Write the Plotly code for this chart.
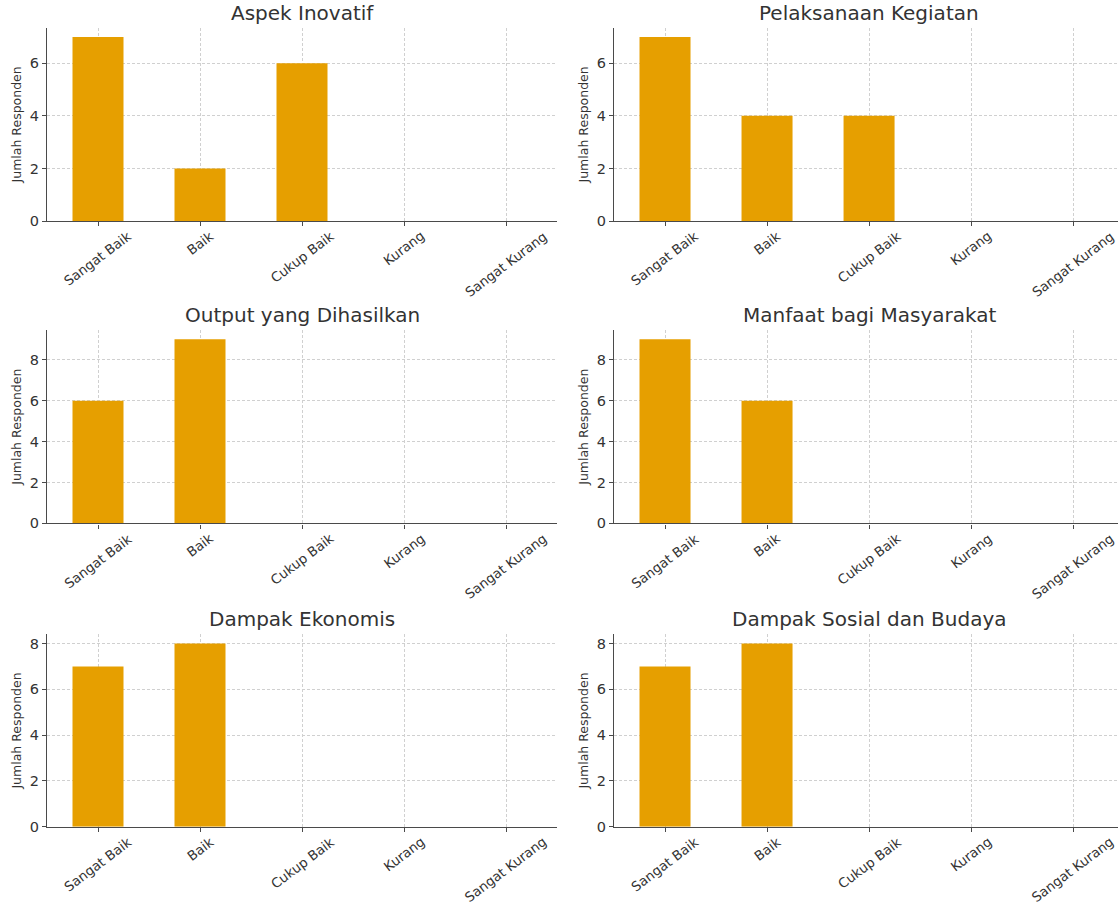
import plotly.graph_objects as go

categories = ["Sangat Baik", "Baik", "Cukup Baik", "Kurang", "Sangat Kurang"]
titles = ["Aspek Inovatif", "Pelaksanaan Kegiatan", "Output yang Dihasilkan",
          "Manfaat bagi Masyarakat", "Dampak Ekonomis", "Dampak Sosial dan Budaya"]
aspek_inovatif = [7, 2, 6, 0, 0]
pelaksanaan_kegiatan = [7, 4, 4, 0, 0]
output_dihasilkan = [6, 9, 0, 0, 0]
manfaat_masyarakat = [9, 6, 0, 0, 0]
dampak_ekonomis = [7, 8, 0, 0, 0]
dampak_sosial_budaya = [7, 8, 0, 0, 0]
y_label = "Jumlah Responden"

series = [aspek_inovatif, pelaksanaan_kegiatan, output_dihasilkan,
          manfaat_masyarakat, dampak_ekonomis, dampak_sosial_budaya]

W, H = 1118, 908
BAR = "#E69F00"
TXT = "#333333"
AX = "#4a4a4a"
GRID = "#d0d0d0"
FONT = "DejaVu Sans, Verdana, sans-serif"

# pixel geometry of each column (x) and row (y: zero line, top)
cols = [(47, 557, [-0.5, 4.5]), (614, 1118, [-0.5, 4.44])]
rows = [(223, 28), (528, 333), (834, 640)]

fig = go.Figure()
layout = dict(width=W, height=H, margin=dict(l=0, r=0, t=0, b=0),
              paper_bgcolor="white", plot_bgcolor="white", showlegend=False,
              font=dict(family=FONT, color=TXT, size=13))
annotations = []

for i, vals in enumerate(series):
    r, c = divmod(i, 2)
    x0, x1, xr = cols[c]
    yb, yt = rows[r]
    n = i + 1
    xa = "x" if n == 1 else f"x{n}"
    ya = "y" if n == 1 else f"y{n}"
    ymax = max(vals) * 1.05
    fig.add_trace(go.Bar(x=list(range(len(categories))), y=vals,
                         marker=dict(color=BAR, line=dict(width=0)),
                         width=0.5, xaxis=xa, yaxis=ya, hoverinfo="y"))
    layout["xaxis" if n == 1 else f"xaxis{n}"] = dict(
        domain=[x0 / W, x1 / W], anchor=ya, range=xr,
        tickmode="array", tickvals=list(range(len(categories))),
        showticklabels=False, ticks="outside", ticklen=4, tickcolor=AX, tickwidth=1.2,
        showline=True, linecolor=AX, linewidth=1.4,
        showgrid=True, gridcolor=GRID, griddash="3px,2px", gridwidth=0.8,
        zeroline=False, fixedrange=True)
    layout["yaxis" if n == 1 else f"yaxis{n}"] = dict(
        domain=[(H - yb) / H, (H - yt) / H], anchor=xa, range=[0, ymax],
        tick0=0, dtick=2, ticks="outside", ticklen=4, tickcolor=AX, tickwidth=1.2,
        tickfont=dict(size=14.5, color=TXT),
        showline=True, linecolor=AX, linewidth=1.4,
        showgrid=True, gridcolor=GRID, griddash="3px,2px", gridwidth=0.8,
        zeroline=False, fixedrange=True,
        title=dict(text=y_label, font=dict(family=FONT, size=12.5, color=TXT), standoff=5))
    annotations.append(dict(text=titles[i], xref=f"{xa} domain", yref=f"{ya} domain",
                            x=(557 - 47) / 2 / (x1 - x0), y=1,
                            xanchor="center", yanchor="bottom", yshift=1, showarrow=False,
                            font=dict(size=20, color=TXT, family=FONT)))
    for k, cat in enumerate(categories):
        annotations.append(dict(text=cat, xref=xa, yref=ya, x=k, y=0,
                                xanchor="center", yanchor="top", yshift=-5,
                                textangle=-37, showarrow=False,
                                font=dict(size=13.3, color=TXT, family=FONT)))

layout["annotations"] = annotations
fig.update_layout(**layout)
fig.write_html("out.html", config={"displayModeBar": False},
               post_script="document.body.style.margin='0px';document.body.style.overflow='hidden';")
